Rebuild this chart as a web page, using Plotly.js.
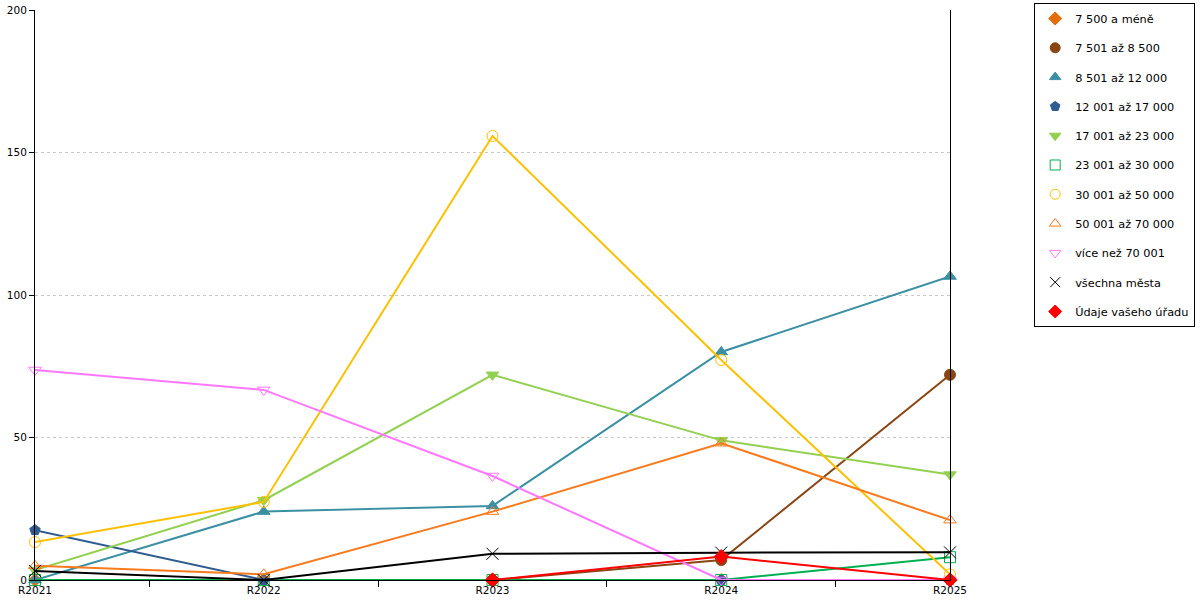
<!DOCTYPE html>
<html>
<head>
<meta charset="utf-8">
<script src="https://cdn.plot.ly/plotly-3.0.1.min.js"></script>
<style>html,body{margin:0;padding:0;background:#fff}#chart{width:1200px;height:600px}</style>
</head>
<body>
<div id="chart"></div>
<script>
var categories = ['R2021', 'R2022', 'R2023', 'R2024', 'R2025'];
var seriesNames = ['7 500 a méně', '7 501 až 8 500', '8 501 až 12 000', '12 001 až 17 000', '17 001 až 23 000', '23 001 až 30 000', '30 001 až 50 000', '50 001 až 70 000', 'více než 70 001', 'všechna města', 'Údaje vašeho úřadu'];
var v7500 = [0, 0, 0, 0, 0];
var v8500 = [null, null, 0, 7, 72];
var v12000 = [0, 24, 26, 80, 106.5];
var v17000 = [17.5, 0, 0, 0, 0];
var v23000 = [3.5, 28, 72, 49, 37];
var v30000 = [0, 0, 0, 0, 8];
var v50000 = [13.3, 27.4, 155.8, 77.2, 2];
var v70000 = [5, 2, 24, 48, 21];
var vOver = [73.7, 66.7, 36.5, 0, 0];
var vAll = [3.2, 0, 9.2, 9.6, 9.7];
var vOffice = [null, null, 0, 8.2, 0];
var yTicks = [0, 50, 100, 150, 200];

var values = [v7500, v8500, v12000, v17000, v23000, v30000, v50000, v70000, vOver, vAll, vOffice];
var colors = ['#E46C0A', '#8B4513', '#3A8FA3', '#2F5B8F', '#92D050', '#00B050', '#FFC000', '#F97A1C', '#FF77FF', '#000000', '#FF0000'];
var symbols = ['diamond', 'circle', 'triangle-up', 'pentagon', 'triangle-down', 'square-open', 'circle-open', 'triangle-up-open', 'triangle-down-open', 'x-thin-open', 'diamond'];
var sizes = [10, 11, 11, 11, 11, 11, 11, 11, 11, 12, 11];

var data = [];
for (var i = 0; i < values.length; i++) {
  data.push({
    type: 'scatter', mode: 'lines+markers', x: categories, y: values[i],
    name: seriesNames[i], showlegend: false, cliponaxis: false,
    line: {color: colors[i], width: 2},
    marker: {symbol: symbols[i], size: sizes[i], color: colors[i], line: {color: colors[i], width: 1}}
  });
}
for (var j = 0; j < values.length; j++) {
  data.push({
    type: 'scatter', mode: 'markers', x: [null], y: [null],
    name: seriesNames[j], legendgroup: 'g' + j, showlegend: true,
    marker: {symbol: symbols[j], size: 10, color: colors[j], line: {color: colors[j], width: 1}}
  });
}

var layout = {
  width: 1200, height: 600,
  margin: {l: 35, r: 250, t: 10, b: 20, autoexpand: false},
  paper_bgcolor: '#ffffff', plot_bgcolor: '#ffffff',
  font: {family: 'DejaVu Sans, sans-serif', size: 10, color: '#000'},
  xaxis: {
    type: 'category', categoryorder: 'array', categoryarray: categories,
    range: [0, 4], showgrid: false, zeroline: false,
    showline: true, linecolor: '#000', linewidth: 1,
    ticks: 'outside', tickson: 'boundaries', ticklen: 6, tickcolor: '#000',
    tickfont: {size: 10.5}, fixedrange: true
  },
  yaxis: {
    range: [0, 200], tickvals: yTicks, showgrid: true, gridcolor: '#c8c8c8', griddash: 'dot',
    zeroline: false, showline: true, linecolor: '#000', linewidth: 1, mirror: true,
    ticks: 'outside', ticklen: 5, tickcolor: '#000', tickfont: {size: 10.5}
  },
  legend: {
    x: 1.092, xanchor: 'left', y: 1.0123, yanchor: 'top', maxheight: 500,
    bordercolor: '#000', borderwidth: 1, bgcolor: '#fff',
    font: {size: 11.3, color: '#000'}, tracegroupgap: 10.3, traceorder: 'grouped'
  }
};
Plotly.newPlot('chart', data, layout, {displayModeBar: false, staticPlot: true});
</script>
</body>
</html>
